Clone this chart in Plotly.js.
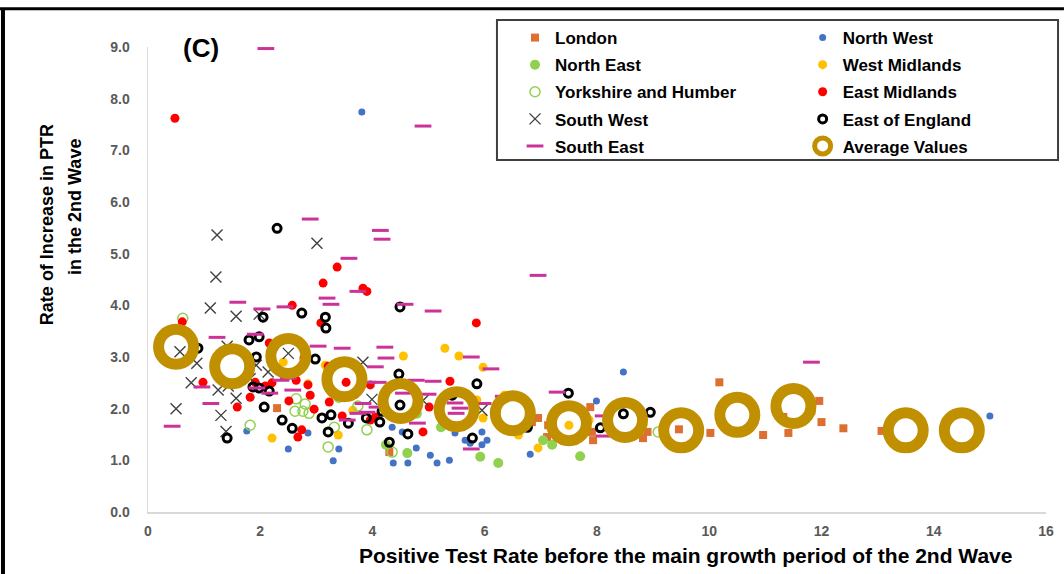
<!DOCTYPE html>
<html><head><meta charset="utf-8">
<script src="https://cdn.plot.ly/plotly-3.0.1.min.js"></script>
<style>html,body{margin:0;padding:0;background:#fff}#chart{width:1064px;height:574px}</style>
</head><body><div id="chart"></div>
<script>
// ---- data ----
const londonX = [2.30,4.30,6.84,6.95,7.11,7.13,7.88,7.91,7.93,8.82,8.90,9.46,10.02,10.18,10.23,10.96,11.32,11.41,11.82,11.96,12.00,12.39,13.07,14.21];
const londonY = [2.01,1.16,1.74,1.82,1.45,1.68,2.03,1.55,1.39,1.43,1.55,1.60,1.53,2.51,1.72,1.49,1.84,1.53,1.96,2.15,1.74,1.62,1.57,1.43];

const northWestX = [1.76,2.50,2.85,3.30,3.40,3.81,4.35,4.37,4.53,4.63,4.78,5.03,5.15,5.37,5.47,5.65,5.74,5.95,5.95,6.04,6.81,7.99,8.47,10.64,13.46,15.00];
const northWestY = [1.57,1.22,1.53,0.99,1.22,7.74,1.64,0.95,1.55,0.95,1.24,1.10,0.95,1.00,1.53,1.39,1.33,1.30,1.55,1.39,1.12,2.15,2.71,2.20,1.26,1.86];

const northEastX = [4.24,4.62,4.79,5.22,5.92,6.24,7.04,7.20,7.70];
const northEastY = [1.30,1.14,1.90,1.64,1.07,0.95,1.39,1.30,1.08];

const westMidX = [2.21,2.41,2.85,3.16,3.39,3.65,4.55,5.29,5.54,5.86,5.97,5.97,6.35,6.60,6.95,7.50,7.86];
const westMidY = [1.43,2.90,2.48,2.84,1.49,1.97,3.02,3.17,3.02,2.17,2.80,1.82,2.26,1.49,1.24,1.68,1.78];

const yorkshireX = [0.62,1.82,2.62,2.64,2.76,2.80,2.87,3.21,3.32,3.40,3.74,3.90,4.35,9.09];
const yorkshireY = [3.75,1.68,1.95,2.19,1.95,2.09,1.91,1.26,1.64,2.22,2.05,1.59,1.16,1.55];

const eastMidX = [0.48,0.61,0.98,1.59,1.82,1.91,2.09,2.16,2.21,2.51,2.57,2.64,2.67,2.74,2.78,2.85,2.89,2.96,3.08,3.12,3.21,3.23,3.37,3.46,3.53,3.69,3.83,3.90,3.96,3.96,4.05,4.90,5.01,5.38,5.85];
const eastMidY = [7.62,3.68,2.51,2.03,2.22,2.51,2.44,3.27,2.50,2.15,4.00,2.55,1.45,1.59,2.98,2.46,2.26,1.99,3.66,4.43,2.82,2.13,4.74,1.86,2.51,2.28,4.33,4.27,1.78,2.46,1.84,1.55,2.03,2.53,3.66];

const southWestX = [0.50,0.57,0.77,0.87,1.11,1.21,1.23,1.25,1.30,1.39,1.41,1.43,1.57,1.57,1.82,1.93,1.98,2.14,2.50,3.01,3.83,3.99,4.90,5.95];
const southWestY = [2.00,3.10,2.50,2.88,3.95,4.55,5.36,2.36,1.87,1.56,3.21,2.44,3.79,2.20,2.58,2.84,3.83,2.71,3.07,5.20,2.90,2.18,2.16,1.97];

const eastEngX = [0.89,1.41,1.80,1.87,1.93,1.98,1.98,2.05,2.07,2.16,2.23,2.30,2.39,2.57,2.74,2.98,3.10,3.16,3.17,3.21,3.26,3.57,3.89,4.13,4.17,4.30,4.47,4.49,4.49,4.63,5.42,5.78,5.86,6.76,7.49,8.06,8.47,8.95];
const eastEngY = [3.17,1.43,3.33,2.42,3.00,3.39,2.40,3.77,2.03,2.34,3.19,5.49,1.78,1.62,3.85,2.96,1.82,3.77,3.56,1.55,1.88,1.72,1.82,1.74,1.95,1.35,2.67,3.97,2.07,1.51,2.26,1.43,2.48,1.64,2.30,1.63,1.90,1.93];

const southEastX = [0.43,0.96,1.12,1.23,1.60,1.91,1.94,2.03,2.10,2.17,2.37,2.44,2.50,2.58,2.89,3.03,3.19,3.26,3.46,3.55,3.58,3.74,3.74,3.83,3.90,3.92,4.05,4.08,4.10,4.14,4.17,4.22,4.24,4.35,4.55,4.58,4.78,4.80,4.90,4.99,5.08,5.08,5.47,5.49,5.56,5.76,5.76,5.97,6.11,6.33,6.95,7.29,8.11,8.13,11.82];
const southEastY = [1.66,2.42,2.10,3.38,4.06,3.44,2.40,3.93,8.97,2.30,2.55,3.97,2.59,2.36,5.67,3.21,4.14,4.02,3.17,1.78,4.91,4.27,1.91,2.10,1.93,2.51,2.81,2.03,2.51,5.45,5.28,3.19,2.98,2.42,2.30,4.02,2.55,1.72,7.47,2.28,3.89,2.53,2.11,1.91,2.01,3.00,1.22,2.10,2.77,2.24,4.58,2.32,1.86,1.47,2.90];

const averageX = [0.5,1.5,2.5,3.5,4.5,5.5,6.5,7.5,8.5,9.5,10.5,11.5,13.5,14.5];
const averageY = [3.20,2.82,3.02,2.57,2.15,1.99,1.91,1.72,1.78,1.58,1.88,2.05,1.58,1.58];

const xTicks = [0,2,4,6,8,10,12,14,16];
const yTicks = [0,1,2,3,4,5,6,7,8,9];

// ---- chart ----
const FONT = '"Liberation Sans", Arial, sans-serif';
function tr(name, x, y, marker, legend) {
  return {type:'scatter', mode:'markers', name:name, x:x, y:y, marker:marker,
          legend:legend, legendgroup:name, cliponaxis:false};
}
const data = [
  tr('London', londonX, londonY, {symbol:'square', size:8, color:'#DD7031'}, 'legend'),
  tr('North West', northWestX, northWestY, {symbol:'circle', size:7, color:'#4472C4'}, 'legend2'),
  tr('North East', northEastX, northEastY, {symbol:'circle', size:10, color:'#92D050'}, 'legend'),
  tr('West Midlands', westMidX, westMidY, {symbol:'circle', size:9, color:'#FFC000'}, 'legend2'),
  tr('Yorkshire and Humber', yorkshireX, yorkshireY, {symbol:'circle-open', size:10, color:'#92D050', line:{width:1.5}}, 'legend'),
  tr('East Midlands', eastMidX, eastMidY, {symbol:'circle', size:9, color:'#FF0000'}, 'legend2'),
  tr('South West', southWestX, southWestY, {symbol:'x-thin-open', size:11, color:'#404040', line:{width:1.4, color:'#404040'}}, 'legend'),
  tr('East of England', eastEngX, eastEngY, {symbol:'circle-open', size:8, color:'#000000', line:{width:3, color:'#000000'}}, 'legend2'),
  tr('South East', southEastX, southEastY, {symbol:'line-ew-open', size:12, color:'#CC3399', line:{width:3, color:'#CC3399'}}, 'legend'),
  tr('Average Values', averageX, averageY, {symbol:'circle-open', size:35, color:'#C09000', line:{width:11, color:'#C09000'}}, 'legend2')
];

const tickFont = {family:FONT, size:14, color:'#595959', weight:'bold'};
const legendCommon = {xanchor:'left', yanchor:'top', bgcolor:'rgba(0,0,0,0)', borderwidth:0,
  font:{family:FONT, size:17, color:'#000', weight:'bold'}, tracegroupgap:2, traceorder:'grouped', itemwidth:30};

const layout = {
  width:1064, height:574,
  margin:{l:148, r:18, t:47, b:62},
  paper_bgcolor:'#ffffff', plot_bgcolor:'#ffffff',
  font:{family:FONT},
  showlegend:true,
  xaxis:{range:[0,16], tickvals:xTicks, ticktext:xTicks.map(String), showgrid:false, zeroline:false,
         showline:true, linecolor:'#D9D9D9', linewidth:1.5, ticks:'', tickfont:tickFont, ticklabelstandoff:6},
  yaxis:{range:[0,9], tickvals:yTicks, ticktext:yTicks.map(v=>v.toFixed(1)), showgrid:false, zeroline:false,
         showline:true, linecolor:'#D9D9D9', linewidth:1.5, ticks:'', tickfont:tickFont, ticklabelstandoff:14},
  legend:Object.assign({x:0.4087, y:1.058}, legendCommon),
  legend2:Object.assign({x:0.729, y:1.058}, legendCommon),
  shapes:[
    {type:'rect', xref:'paper', yref:'paper', x0:0.3886, x1:1.0134, y0:0.757, y1:1.058, line:{color:'#3F3F3F', width:2}, fillcolor:'rgba(0,0,0,0)'},
    {type:'line', xref:'paper', yref:'paper', x0:-0.1648, x1:1.02, y0:1.082, y1:1.082, line:{color:'#000', width:3}},
    {type:'line', xref:'paper', yref:'paper', x0:-0.1615, x1:-0.1615, y0:1.082, y1:-0.14, line:{color:'#000', width:4}}
  ],
  annotations:[
    {text:'(C)', xref:'paper', yref:'paper', x:0.0590, y:0.998, xanchor:'center', yanchor:'middle', showarrow:false, font:{family:FONT, size:26, color:'#000', weight:'bold'}},
    {text:'Rate of Increase in PTR', xref:'paper', yref:'paper', x:-0.1125, y:0.619, xanchor:'center', yanchor:'middle', textangle:-90, showarrow:false, font:{family:FONT, size:18, color:'#000', weight:'bold'}},
    {text:'in the 2nd Wave', xref:'paper', yref:'paper', x:-0.0813, y:0.656, xanchor:'center', yanchor:'middle', textangle:-90, showarrow:false, font:{family:FONT, size:18, color:'#000', weight:'bold'}},
    {text:'Positive Test Rate before the main growth period of the 2nd Wave', xref:'paper', yref:'paper', x:0.599, y:-0.0925, xanchor:'center', yanchor:'middle', showarrow:false, font:{family:FONT, size:21, color:'#000', weight:'bold'}}
  ]
};

Plotly.newPlot('chart', data, layout, {displayModeBar:false, staticPlot:true});
</script>
</body></html>
